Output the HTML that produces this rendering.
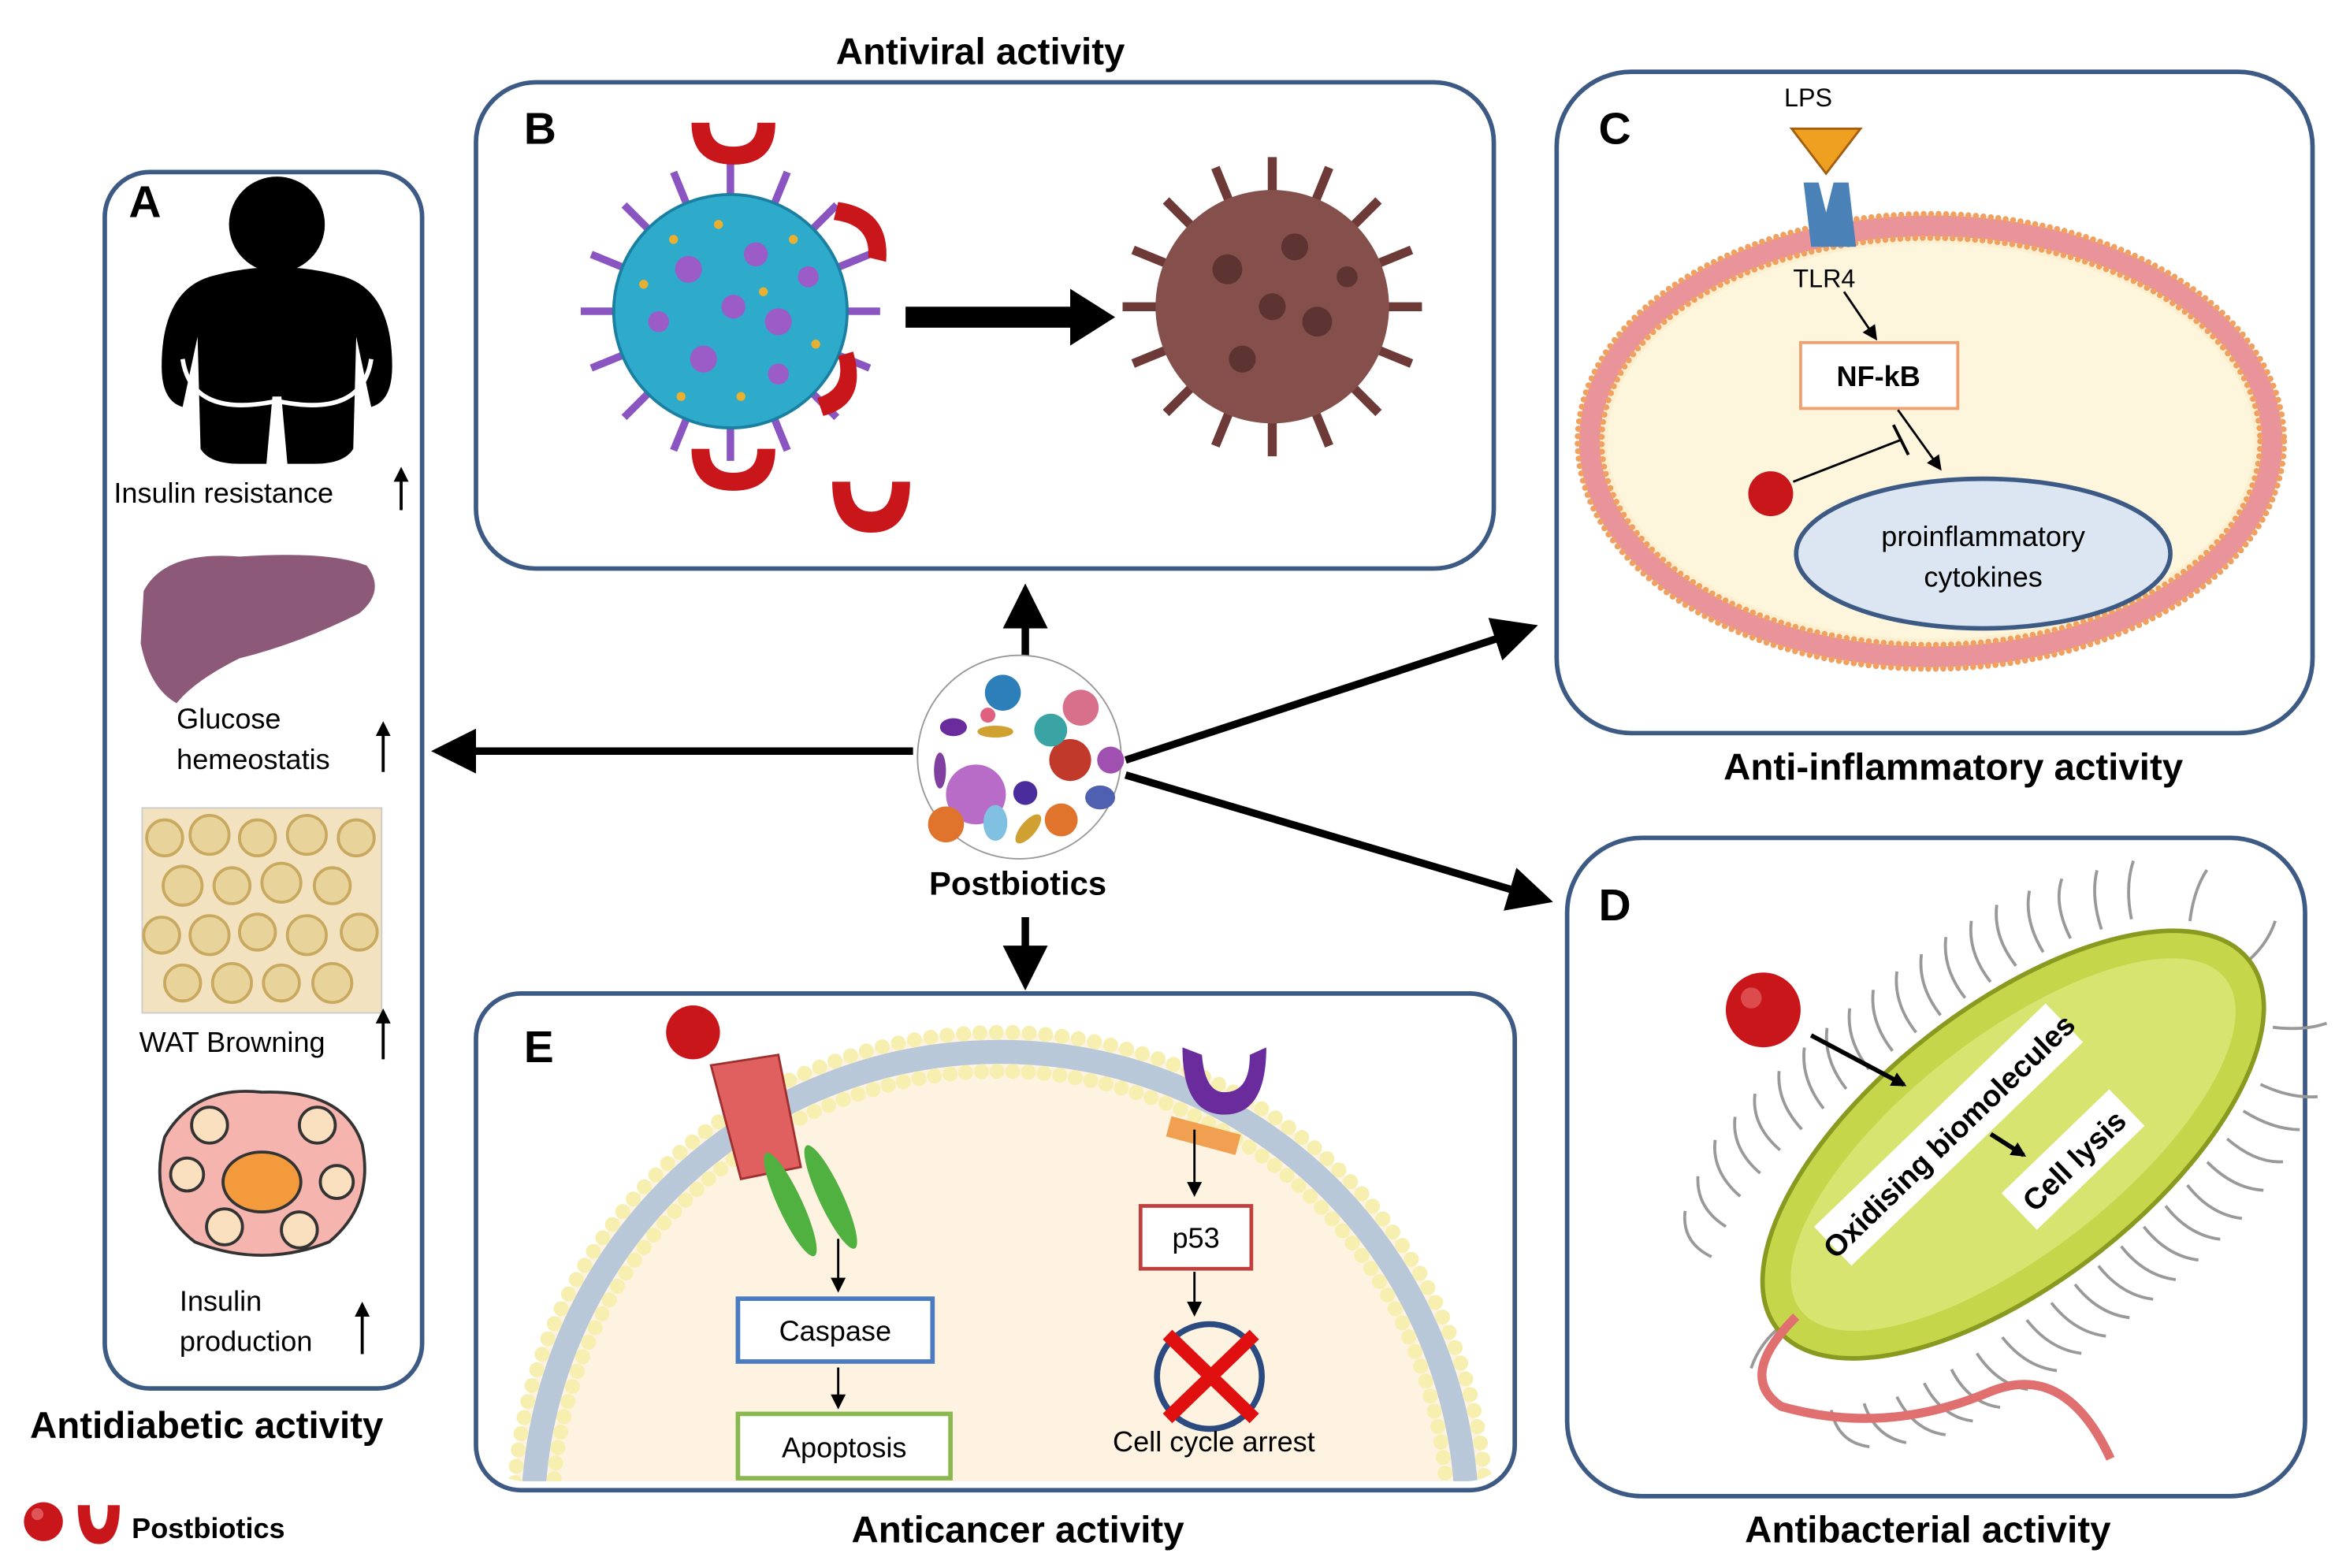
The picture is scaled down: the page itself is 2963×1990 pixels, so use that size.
<!DOCTYPE html>
<html><head><meta charset="utf-8"><style>
html,body{margin:0;padding:0;background:#fff;width:2963px;height:1990px;overflow:hidden}
svg{display:block}
text{font-family:"Liberation Sans",sans-serif}
</style></head><body>
<svg width="2963" height="1990" viewBox="0 0 1560 1048" preserveAspectRatio="none" xmlns="http://www.w3.org/2000/svg">
<defs>
<marker id="ah" markerWidth="6" markerHeight="6" refX="4" refY="3" orient="auto" markerUnits="strokeWidth"><path d="M0,0 L6,3 L0,6 z" fill="#000"/></marker>
<marker id="as" markerWidth="10" markerHeight="10" refX="8" refY="5" orient="auto" markerUnits="userSpaceOnUse"><path d="M0,0 L10,5 L0,10 z" fill="#000"/></marker>
<clipPath id="ce"><rect x="320" y="664" width="690" height="326" rx="30"/></clipPath>
</defs>

<rect x="70" y="115" width="212" height="813" rx="30" fill="none" stroke="#3d5a85" stroke-width="3"/>
<rect x="318" y="55" width="680" height="325" rx="40" fill="none" stroke="#3d5a85" stroke-width="3"/>
<rect x="1040" y="48" width="505" height="442" rx="50" fill="none" stroke="#3d5a85" stroke-width="3"/>
<rect x="1047" y="560" width="493" height="440" rx="50" fill="none" stroke="#3d5a85" stroke-width="3"/>

<g font-weight="bold" font-size="25" fill="#000">
<text x="655" y="43" text-anchor="middle">Antiviral activity</text>
<text x="1305" y="521" text-anchor="middle">Anti-inflammatory activity</text>
<text x="1288" y="1031" text-anchor="middle">Antibacterial activity</text>
<text x="680" y="1031" text-anchor="middle">Anticancer activity</text>
<text x="20" y="961">Antidiabetic activity</text>
<text x="680" y="598" text-anchor="middle" font-size="22">Postbiotics</text>
<text x="88" y="1028" font-size="19">Postbiotics</text>
</g>
<g font-weight="bold" font-size="30"><text x="86" y="145">A</text><text x="350" y="96">B</text><text x="1068" y="96">C</text><text x="1068" y="615">D</text><text x="350" y="710">E</text></g>

<circle cx="29" cy="1017" r="13" fill="#c8161b"/><circle cx="25" cy="1012" r="4" fill="#f08080" opacity=".6"/>
<path d="M52,1006 Q52,1032 66,1032 Q80,1032 80,1006 L72,1006 Q72,1022 66,1022 Q60,1022 60,1006 z" fill="#c8161b"/>

<g stroke="#000" stroke-width="5" fill="none">
<line x1="685" y1="438" x2="685" y2="400" marker-end="url(#ah)"/>
<line x1="610" y1="502" x2="298" y2="502" marker-end="url(#ah)"/>
<line x1="685" y1="613" x2="685" y2="652" marker-end="url(#ah)"/>
<line x1="752" y1="508" x2="1018" y2="421" marker-end="url(#ah)"/>
<line x1="752" y1="518" x2="1028" y2="600" marker-end="url(#ah)"/>
</g>

<circle cx="681" cy="506" r="68" fill="#fff" stroke="#999" stroke-width="1"/>
<circle cx="652" cy="531" r="20" fill="#b86cc8"/><circle cx="715" cy="508" r="14" fill="#c0392b"/>
<circle cx="670" cy="463" r="12" fill="#2c7fb8"/><circle cx="702" cy="488" r="11" fill="#3aa4a4"/>
<circle cx="722" cy="473" r="12" fill="#d8708c"/><circle cx="632" cy="551" r="12" fill="#e0742c"/>
<circle cx="709" cy="548" r="11" fill="#e0742c"/><circle cx="685" cy="530" r="8" fill="#4b2c9c"/>
<circle cx="742" cy="508" r="9" fill="#a050b0"/><circle cx="660" cy="478" r="5" fill="#e06080"/>
<ellipse cx="637" cy="486" rx="9" ry="6" fill="#6a2c9c"/><ellipse cx="665" cy="489" rx="12" ry="4" fill="#d0a030"/>
<ellipse cx="665" cy="550" rx="8" ry="12" fill="#80c0e0"/><ellipse cx="687" cy="554" rx="5" ry="12" fill="#d0a030" transform="rotate(40 687 554)"/>
<ellipse cx="735" cy="533" rx="10" ry="8" fill="#5060b0"/><ellipse cx="628" cy="515" rx="4" ry="12" fill="#8040a0"/>

<!-- Panel A -->
<g fill="#000">
<circle cx="185" cy="150" r="32"/>
<path d="M140,185 Q185,172 230,185 Q262,195 262,245 Q262,268 248,272 L238,225 L236,300 Q230,310 210,310 L192,310 L188,265 L182,265 L178,310 L160,310 Q140,310 134,300 L132,225 L122,272 Q108,268 108,245 Q108,195 140,185 z"/>
</g>
<path d="M122,240 Q128,280 185,268 Q242,280 248,240" stroke="#fff" stroke-width="3" fill="none"/>
<text x="76" y="336" font-size="19">Insulin resistance</text>
<line x1="268" y1="341" x2="268" y2="314" stroke="#000" stroke-width="2" marker-end="url(#as)"/>
<path d="M96,395 Q110,368 160,372 Q220,368 245,378 Q258,395 240,410 Q200,430 160,440 Q130,455 118,470 Q100,460 94,430 z" fill="#8c5a78"/>
<text x="118" y="487" font-size="19">Glucose</text>
<text x="118" y="514" font-size="19">hemeostatis</text>
<line x1="256" y1="516" x2="256" y2="484" stroke="#000" stroke-width="2" marker-end="url(#as)"/>
<rect x="95" y="540" width="160" height="137" fill="#f3e2bf" stroke="#ccc"/>
<g fill="#e8d39a" stroke="#c9a860" stroke-width="2">
<circle cx="110" cy="560" r="12"/><circle cx="140" cy="558" r="13"/><circle cx="172" cy="560" r="12"/><circle cx="205" cy="558" r="13"/><circle cx="238" cy="560" r="12"/>
<circle cx="122" cy="592" r="13"/><circle cx="155" cy="592" r="12"/><circle cx="188" cy="590" r="13"/><circle cx="222" cy="592" r="12"/>
<circle cx="108" cy="625" r="12"/><circle cx="140" cy="625" r="13"/><circle cx="172" cy="623" r="12"/><circle cx="205" cy="625" r="13"/><circle cx="240" cy="623" r="12"/>
<circle cx="122" cy="657" r="12"/><circle cx="155" cy="657" r="13"/><circle cx="188" cy="657" r="12"/><circle cx="222" cy="657" r="13"/>
</g>
<text x="93" y="703" font-size="19">WAT Browning</text>
<line x1="256" y1="708" x2="256" y2="676" stroke="#000" stroke-width="2" marker-end="url(#as)"/>
<path d="M110,760 Q130,725 175,730 Q230,728 242,765 Q250,805 220,830 Q175,848 130,830 Q98,805 110,760 z" fill="#f6b4ae" stroke="#333" stroke-width="2"/>
<ellipse cx="175" cy="790" rx="26" ry="20" fill="#f29a3c" stroke="#333" stroke-width="2"/>
<g fill="#fbe0c0" stroke="#333" stroke-width="2"><circle cx="140" cy="752" r="12"/><circle cx="212" cy="752" r="12"/><circle cx="125" cy="785" r="11"/><circle cx="225" cy="790" r="11"/><circle cx="150" cy="820" r="12"/><circle cx="200" cy="822" r="12"/></g>
<text x="120" y="876" font-size="19">Insulin</text>
<text x="120" y="903" font-size="19">production</text>
<line x1="242" y1="905" x2="242" y2="872" stroke="#000" stroke-width="2" marker-end="url(#as)"/>

<!-- Panel B -->
<g stroke="#8a55c0" stroke-width="5">
<line x1="488" y1="108" x2="488" y2="308"/><line x1="388" y1="208" x2="588" y2="208"/>
<line x1="417" y1="137" x2="559" y2="279"/><line x1="559" y1="137" x2="417" y2="279"/>
<line x1="450" y1="115" x2="526" y2="301"/><line x1="526" y1="115" x2="450" y2="301"/>
<line x1="395" y1="170" x2="581" y2="246"/><line x1="395" y1="246" x2="581" y2="170"/>
</g>
<circle cx="488" cy="208" r="78" fill="#2eaacb" stroke="#1a7fa0" stroke-width="2"/>
<g fill="#9b5cc8"><circle cx="460" cy="180" r="9"/><circle cx="505" cy="170" r="8"/><circle cx="520" cy="215" r="9"/><circle cx="470" cy="240" r="9"/><circle cx="490" cy="205" r="8"/><circle cx="440" cy="215" r="7"/><circle cx="520" cy="250" r="7"/><circle cx="540" cy="185" r="7"/></g>
<g fill="#e8b030"><circle cx="450" cy="160" r="3"/><circle cx="480" cy="150" r="3"/><circle cx="530" cy="160" r="3"/><circle cx="430" cy="190" r="3"/><circle cx="545" cy="230" r="3"/><circle cx="495" cy="265" r="3"/><circle cx="455" cy="265" r="3"/><circle cx="510" cy="195" r="3"/></g>
<g fill="#c8161b">
<path d="M462,82 Q462,110 490,110 Q518,110 518,82 L506,82 Q506,98 490,98 Q474,98 474,82 z"/>
<path d="M462,300 Q462,328 490,328 Q518,328 518,300 L506,300 Q506,316 490,316 Q474,316 474,300 z"/>
<path d="M556,322 Q556,356 582,356 Q608,356 608,322 L596,322 Q596,342 582,342 Q568,342 568,322 z"/>
<path d="M560,135 Q595,140 592,175 L580,172 Q582,150 557,147 z"/>
<path d="M570,235 Q580,270 550,278 L546,266 Q566,260 560,238 z"/>
</g>
<path d="M605,205 L715,205 L715,193 L745,212 L715,231 L715,219 L605,219 z" fill="#000"/>
<g stroke="#6e3a38" stroke-width="6">
<line x1="850" y1="105" x2="850" y2="305"/><line x1="750" y1="205" x2="950" y2="205"/>
<line x1="779" y1="134" x2="921" y2="276"/><line x1="921" y1="134" x2="779" y2="276"/>
<line x1="812" y1="112" x2="888" y2="298"/><line x1="888" y1="112" x2="812" y2="298"/>
<line x1="757" y1="167" x2="943" y2="243"/><line x1="757" y1="243" x2="943" y2="167"/>
</g>
<circle cx="850" cy="205" r="78" fill="#85504c"/>
<g fill="#5e3432"><circle cx="820" cy="180" r="10"/><circle cx="865" cy="165" r="9"/><circle cx="880" cy="215" r="10"/><circle cx="830" cy="240" r="9"/><circle cx="850" cy="205" r="9"/><circle cx="900" cy="185" r="7"/></g>

<!-- Panel C -->
<ellipse cx="1290" cy="295" rx="236" ry="152" fill="#fdf0d0"/>
<ellipse cx="1290" cy="295" rx="228" ry="144" fill="none" stroke="#e9949a" stroke-width="14"/>
<ellipse cx="1290" cy="295" rx="236" ry="152" fill="none" stroke="#f0a060" stroke-width="4" stroke-dasharray="0 5" stroke-linecap="round"/>
<ellipse cx="1290" cy="295" rx="220" ry="136" fill="none" stroke="#f0a060" stroke-width="4" stroke-dasharray="0 5" stroke-linecap="round"/>
<ellipse cx="1290" cy="295" rx="216" ry="132" fill="#fdf5dc"/>
<text x="1192" y="71" font-size="17">LPS</text>
<path d="M1197,86 L1243,86 L1220,116 z" fill="#f0a020" stroke="#a06010" stroke-width="1.5"/>
<path d="M1205,122 L1215,122 L1220,142 L1225,122 L1235,122 L1240,165 L1210,165 z" fill="#4a82b8"/>
<text x="1198" y="192" font-size="17">TLR4</text>
<line x1="1232" y1="195" x2="1253" y2="226" stroke="#000" stroke-width="1.5" marker-end="url(#as)"/>
<rect x="1203" y="229" width="105" height="44" fill="#fff" stroke="#f0a070" stroke-width="2"/>
<text x="1255" y="258" font-size="19" font-weight="bold" text-anchor="middle">NF-kB</text>
<line x1="1268" y1="274" x2="1296" y2="313" stroke="#000" stroke-width="1.5" marker-end="url(#as)"/>
<ellipse cx="1325" cy="370" rx="125" ry="50" fill="#dce6f2" stroke="#3d5a85" stroke-width="3"/>
<text x="1325" y="365" font-size="19" text-anchor="middle">proinflammatory</text>
<text x="1325" y="392" font-size="19" text-anchor="middle">cytokines</text>
<circle cx="1183" cy="330" r="15" fill="#c8161b"/>
<line x1="1198" y1="322" x2="1270" y2="294" stroke="#000" stroke-width="1.5"/>
<line x1="1265" y1="284" x2="1275" y2="304" stroke="#000" stroke-width="2"/>

<!-- Panel D -->
<g transform="rotate(-38 1345 765)" stroke="#999" stroke-width="2" fill="none">
<path d="M1140,700 q-10,-20 5,-35 M1160,690 q-8,-22 6,-38 M1180,680 q-5,-25 10,-40 M1200,676 q-5,-25 10,-40 M1220,672 q-5,-25 10,-40 M1240,670 q-2,-25 12,-40 M1260,668 q0,-25 15,-40 M1280,667 q0,-25 15,-40 M1300,666 q0,-25 15,-40 M1320,666 q0,-25 15,-40 M1340,666 q0,-25 15,-40 M1360,667 q0,-25 15,-40 M1380,668 q0,-25 15,-40 M1400,670 q0,-25 15,-40 M1420,672 q0,-25 15,-40 M1440,676 q3,-25 18,-38 M1460,680 q5,-25 20,-35 M1480,688 q8,-22 22,-33 M1500,695 q10,-20 25,-30 M1530,720 q15,-15 30,-20"/>
<path d="M1140,830 q-10,20 5,35 M1160,840 q-8,22 6,38 M1180,850 q-5,25 10,40 M1200,854 q-5,25 10,40 M1220,858 q-5,25 10,40 M1240,860 q-2,25 12,40 M1260,862 q0,25 15,40 M1280,863 q0,25 15,40 M1300,864 q0,25 15,40 M1320,864 q0,25 15,40 M1340,864 q0,25 15,40 M1360,863 q0,25 15,40 M1380,862 q0,25 15,40 M1400,860 q0,25 15,40 M1420,858 q0,25 15,40 M1440,854 q3,25 18,38 M1460,850 q5,25 20,35 M1480,842 q8,22 22,33 M1500,835 q10,20 25,30 M1530,810 q15,15 30,20 M1540,765 q20,0 35,-10 M1150,765 q-20,0 -35,10"/>
<ellipse cx="1345" cy="765" rx="200" ry="92" fill="#c6d64a" stroke="#8a9a20" stroke-width="3"/>
<ellipse cx="1345" cy="765" rx="180" ry="72" fill="#d8e470" stroke="none"/>
</g>
<path d="M1200,880 Q1160,920 1190,940 Q1260,960 1330,930 Q1380,910 1410,975" stroke="#e07070" stroke-width="6" fill="none"/>
<g transform="rotate(-44 1300 760)">
<rect x="1195" y="742" width="215" height="36" fill="#fff"/>
<text x="1302" y="768" font-size="20" font-weight="bold" text-anchor="middle">Oxidising biomolecules</text>
</g>
<g transform="rotate(-44 1385 775)">
<rect x="1335" y="758" width="100" height="34" fill="#fff"/>
<text x="1385" y="783" font-size="20" font-weight="bold" text-anchor="middle">Cell lysis</text>
</g>
<circle cx="1178" cy="675" r="25" fill="#c8161b"/><circle cx="1170" cy="667" r="7" fill="#f08080" opacity=".5"/>
<line x1="1210" y1="692" x2="1272" y2="725" stroke="#000" stroke-width="3" marker-end="url(#as)"/>
<line x1="1330" y1="758" x2="1352" y2="772" stroke="#000" stroke-width="3" marker-end="url(#as)"/>

<!-- Panel E -->
<g clip-path="url(#ce)">
<circle cx="668" cy="1015" r="325" fill="#fdf3e0"/>
<circle cx="668" cy="1015" r="312" fill="none" stroke="#b8c8d8" stroke-width="16"/>
<circle cx="668" cy="1015" r="325" fill="none" stroke="#f6efb0" stroke-width="10" stroke-dasharray="0 11" stroke-linecap="round"/>
<circle cx="668" cy="1015" r="299" fill="none" stroke="#f6efb0" stroke-width="10" stroke-dasharray="0 10.5" stroke-linecap="round"/>
</g>
<rect x="318" y="664" width="694" height="332" rx="30" fill="none" stroke="#3d5a85" stroke-width="3"/>
<circle cx="463" cy="690" r="18" fill="#c8161b"/>
<path d="M475,712 L520,705 L535,780 L495,788 z" fill="#e06060" stroke="#a03030" stroke-width="1.5"/>
<ellipse cx="528" cy="805" rx="8" ry="38" fill="#50b040" transform="rotate(-25 528 805)"/>
<ellipse cx="555" cy="800" rx="8" ry="38" fill="#50b040" transform="rotate(-25 555 800)"/>
<path d="M790,700 Q790,745 818,745 Q846,745 846,700 L835,705 Q835,730 818,730 Q805,730 803,705 z" fill="#6a2c9c"/>
<rect x="780" y="752" width="48" height="14" fill="#f0a050" transform="rotate(15 804 759)"/>
<line x1="798" y1="755" x2="798" y2="798" stroke="#000" stroke-width="1.5" marker-end="url(#as)"/>
<line x1="560" y1="828" x2="560" y2="862" stroke="#000" stroke-width="1.5" marker-end="url(#as)"/>
<rect x="493" y="868" width="130" height="42" fill="#fff" stroke="#4a7ac0" stroke-width="3"/>
<text x="558" y="896" font-size="19" text-anchor="middle">Caspase</text>
<line x1="560" y1="914" x2="560" y2="940" stroke="#000" stroke-width="1.5" marker-end="url(#as)"/>
<rect x="493" y="945" width="142" height="43" fill="#fff" stroke="#8ab850" stroke-width="3"/>
<text x="564" y="974" font-size="19" text-anchor="middle">Apoptosis</text>
<rect x="762" y="806" width="74" height="42" fill="#fff" stroke="#c04040" stroke-width="2.5"/>
<text x="799" y="834" font-size="19" text-anchor="middle">p53</text>
<line x1="798" y1="850" x2="798" y2="878" stroke="#000" stroke-width="1.5" marker-end="url(#as)"/>
<circle cx="808" cy="920" r="35" fill="none" stroke="#2a4a80" stroke-width="4"/>
<path d="M780,892 L838,948 M838,892 L780,948" stroke="#e01010" stroke-width="9"/>
<text x="811" y="970" font-size="19" text-anchor="middle">Cell cycle arrest</text>
</svg>
</body></html>
